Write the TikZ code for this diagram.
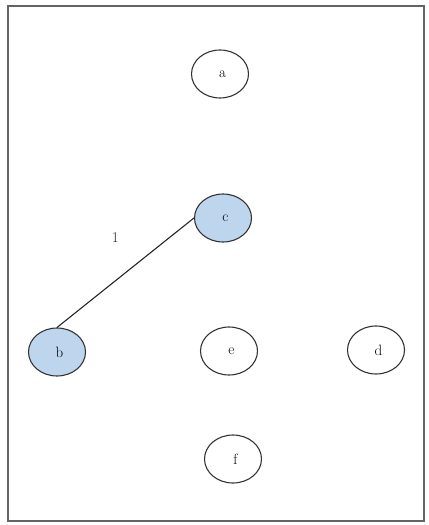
\documentclass[tikz,border=0pt]{standalone}
\usepackage{tikz}
\usetikzlibrary{shapes.geometric}
\definecolor{nodeblue}{RGB}{189,214,238}
\definecolor{framegray}{RGB}{100,100,100}

\begin{document}
\begin{tikzpicture}[x=1bp,y=-1bp,
		vertex/.style={ellipse,draw=black!80,line width=1.1pt,minimum width=57bp,minimum height=48bp,inner sep=0pt,
			font=\fontsize{15}{18}\selectfont,execute at begin node={\hspace*{5bp}}},
		picked/.style={vertex,fill=nodeblue}]
		\useasboundingbox (0,0) rectangle (428,525);
		\draw[framegray,line width=1.6pt] (8,6) rectangle (424,521);
		\node[vertex] (a) at (220,74) {a};
		\node[picked] (c) at (223,218) {c};
		\node[picked] (b) at (57,352) {b};
		\node[vertex] (e) at (229,351) {e};
		\node[vertex] (d) at (376,350) {d};
		\node[vertex] (f) at (233,459) {f};
		\draw[line width=1.1pt,black!85] (b.north) -- node[pos=0.55,xshift=-17bp,yshift=30bp,font=\fontsize{15}{18}\selectfont] {1} (c.west);
	\end{tikzpicture}
\end{document}
